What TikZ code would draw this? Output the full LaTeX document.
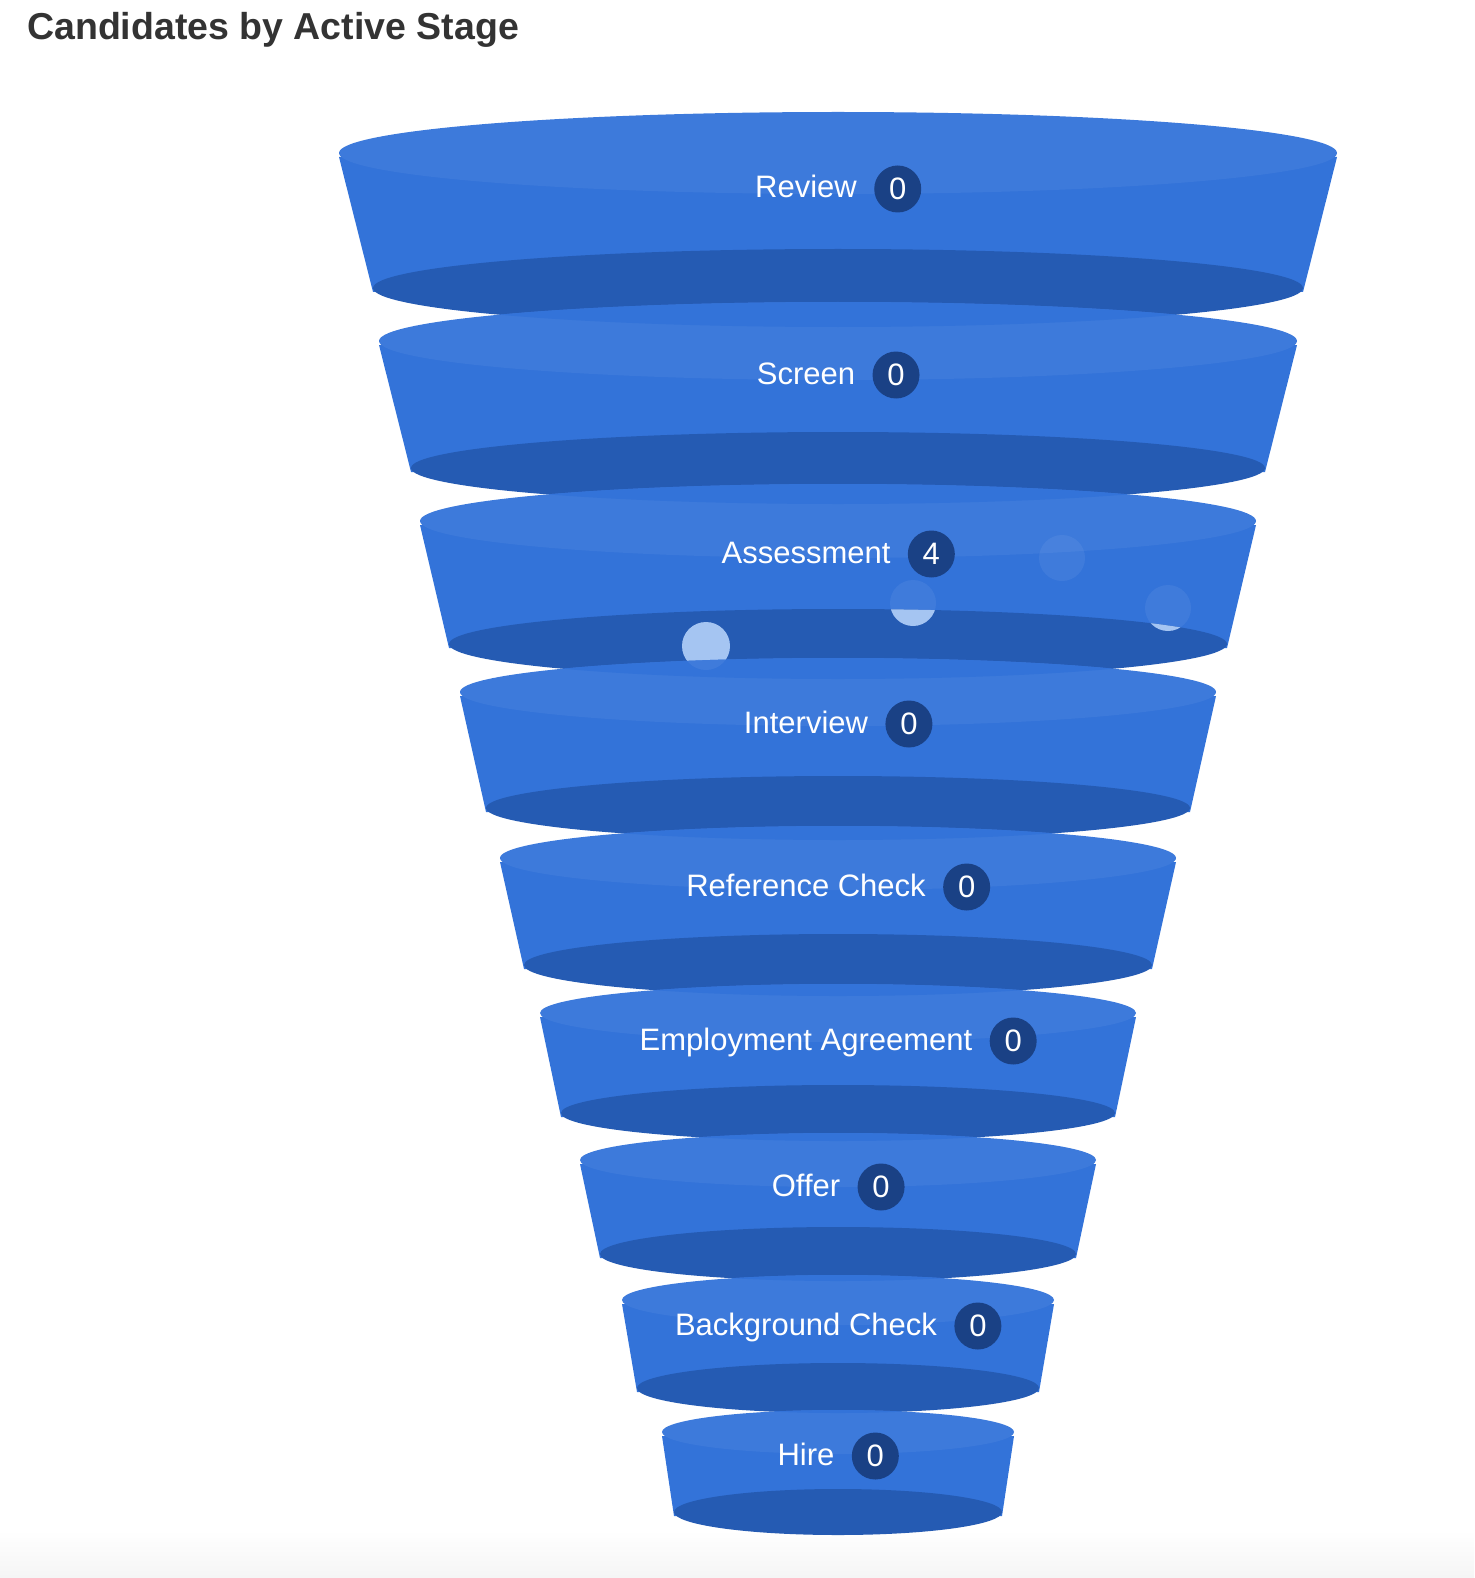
\documentclass[tikz,border=0pt]{standalone}
\usepackage{fontspec}
\setmainfont{Liberation Sans}
\usetikzlibrary{positioning, calc}

\definecolor{capblue}{HTML}{3D7ADB}
\definecolor{bodyblue}{HTML}{3373D9}
\definecolor{rimblue}{HTML}{255BB3}
\definecolor{badgenavy}{HTML}{1A4185}
\definecolor{dotblue}{HTML}{A0C2F2}
\definecolor{titlegray}{HTML}{333333}

\begin{document}
\begin{tikzpicture}[
	x=1pt, y=-1pt,
	% Text styles
	mainTitle/.style={font=\bfseries\fontsize{37.5}{44}\selectfont, text=titlegray, inner sep=0pt},
	stage label/.style={font=\fontsize{31}{36}\selectfont, text=white, inner sep=0pt, text height=24pt, text depth=6pt},
	badge/.style={circle, fill=badgenavy, text=white, font=\fontsize{31}{36}\selectfont, minimum size=47pt, inner sep=0pt},
	% Funnel styles
	top cap/.style={fill=capblue},
	side wall/.style={fill=bodyblue},
	bottom rim/.style={fill=rimblue},
	cand dot/.style={fill=dotblue}
	]
	
	\useasboundingbox (0,0) rectangle (1474,1578);
	\shade[top color=white, bottom color=black!4] (0,1530) rectangle (1474,1578);
	
	\node[mainTitle, anchor=base west] (title) at (27,40) {Candidates by Active Stage};
	
	% ==============================================================================
	% FUNNEL SEGMENTS
	% ==============================================================================
	\foreach \cyt/\rxt/\ryt/\cyb/\rxb/\ryb/\txt/\num/\by [count=\i,
		remember=\cyb as \pcyb (initially -500),
		remember=\rxb as \prxb (initially 1),
		remember=\ryb as \pryb (initially 1)] in {
		153/499/41/288/465/39/Review/0/198,
		341/459/39/468/427/36/Screen/0/384,
		521/418/37/644/389/35/Assessment/4/563,
		692/378/34/808/352/32/Interview/0/733,
		858/338/32/965/314/31/Reference Check/0/896,
		1013/298/29/1113/277/28/Employment Agreement/0/1050,
		1160/258/27/1254/238/27/Offer/0/1196,
		1300/216/25/1388/201/25/Background Check/0/1335,
		1432/176/22/1512/164/23/Hire/0/1465} {
		% side wall, bottom rim, top cap
		\fill[side wall] (838-\rxt,\cyt+4) -- (838-\rxb,\cyb+4) -- (838+\rxb,\cyb+4) -- (838+\rxt,\cyt+4) -- cycle;
		\fill[bottom rim] (838,\cyb) ellipse [x radius=\rxb, y radius=\ryb];
		\fill[top cap] (838,\cyt) ellipse [x radius=\rxt, y radius=\ryt];
		% overlap with the rim above
		\begin{scope}
			\clip (838,\cyt) ellipse [x radius=\rxt, y radius=\ryt];
			\fill[side wall] (838,\pcyb) ellipse [x radius=\prxb, y radius=\pryb];
		\end{scope}
		% candidates in this stage
		\ifnum\i=3
			\begin{scope}
				\clip (838,\cyb) ellipse [x radius=\rxb, y radius=\ryb];
				\fill[cand dot] (706,646) circle [radius=24];
				\fill[cand dot] (913,603) circle [radius=23];
				\fill[cand dot] (1168,608) circle [radius=23];
			\end{scope}
		\fi
		\node[stage label, anchor=base] (lbl\i) at (806,\by) {\txt};
		\node[badge, right=17pt of lbl\i] (cnt\i) {\num};
	}
	
	% faint dots seen through the funnel
	\foreach \dx/\dy/\dr in {706/646/24, 913/603/23, 1062/558/23, 1168/608/23} {
		\fill[white, fill opacity=0.06] (\dx,\dy) circle [radius=\dr];
	}
	
\end{tikzpicture}
\end{document}
